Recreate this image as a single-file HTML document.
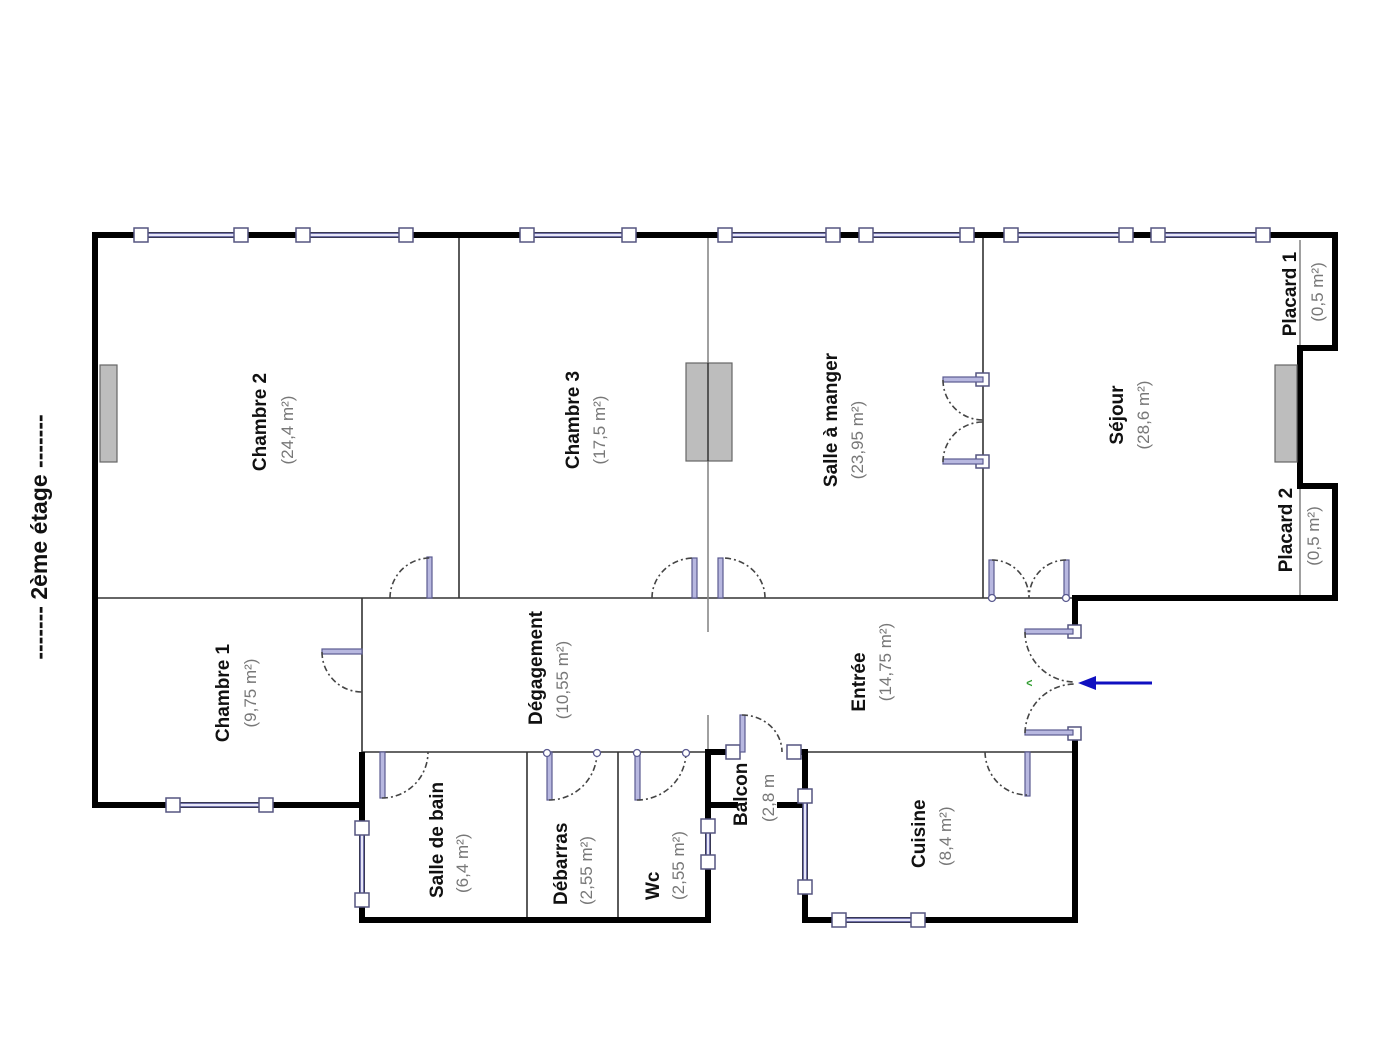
<!DOCTYPE html>
<html><head><meta charset="utf-8"><style>
html,body{margin:0;padding:0;background:#fff;}
svg{display:block;}
.n{font-family:"Liberation Sans",sans-serif;font-weight:bold;font-size:19px;fill:#111;}
.a{font-family:"Liberation Sans",sans-serif;font-size:17px;fill:#777;}
.w{stroke:#000;stroke-width:6;fill:none;stroke-linecap:square;}
.t{stroke:#333;stroke-width:1.6;fill:none;}
.g{stroke:#888;stroke-width:1.6;fill:none;}
.sq{fill:#fff;stroke:#555580;stroke-width:1.5;}
.win{stroke:#7070a8;stroke-width:5;fill:none;}
.win2{stroke:#e8e8f8;stroke-width:2;fill:none;}
.leaf{fill:#b8b8e0;stroke:#5a5a90;stroke-width:1.2;}
.arc{stroke:#444;stroke-width:1.6;fill:none;stroke-dasharray:6 3 2 3;}
.fp{fill:#bdbdbd;stroke:#666;stroke-width:1.2;}
</style></head><body>
<svg width="1390" height="1050" viewBox="0 0 1390 1050" xmlns="http://www.w3.org/2000/svg">
<rect width="1390" height="1050" fill="#fff"/>

<path class="t" d="M459,235V598 M983,235V598 M95,598H1075 M362,598V755 M362,752H708 M527,752V920 M618,752V920 M805,752H1077"/>
<path class="g" d="M708,235V632 M708,715V752 M1300,240V348 M1300,486V598"/>

<path class="w" d="M95,805V235H1335V348H1300V486H1335V598H1075V632 M1075,733V920H805V752 M95,805H362V920H708V752H735 M708,805H735 M780,805H805 M790,752H805"/>
<path class="w" d="M362,755V800"/>

<rect class="fp" x="100" y="365" width="17" height="97"/>
<rect class="fp" x="686" y="363" width="46" height="98"/>
<line x1="708" y1="363" x2="708" y2="461" stroke="#333" stroke-width="1.5"/>
<rect class="fp" x="1275" y="365" width="22" height="97"/>

<g>
<path class="win" d="M141,235H241 M303,235H406 M527,235H629 M725,235H833 M866,235H967 M1011,235H1126 M1158,235H1263 M173,805H266 M839,920H918 M362,828V900 M708,826V862 M805,796V887"/>
<path class="win2" d="M141,235H241 M303,235H406 M527,235H629 M725,235H833 M866,235H967 M1011,235H1126 M1158,235H1263 M173,805H266 M839,920H918 M362,828V900 M708,826V862 M805,796V887"/>
</g>
<g class="sq">
<rect x="134" y="228" width="14" height="14"/><rect x="234" y="228" width="14" height="14"/>
<rect x="296" y="228" width="14" height="14"/><rect x="399" y="228" width="14" height="14"/>
<rect x="520" y="228" width="14" height="14"/><rect x="622" y="228" width="14" height="14"/>
<rect x="718" y="228" width="14" height="14"/><rect x="826" y="228" width="14" height="14"/>
<rect x="859" y="228" width="14" height="14"/><rect x="960" y="228" width="14" height="14"/>
<rect x="1004" y="228" width="14" height="14"/><rect x="1119" y="228" width="14" height="14"/>
<rect x="1151" y="228" width="14" height="14"/><rect x="1256" y="228" width="14" height="14"/>
<rect x="166" y="798" width="14" height="14"/><rect x="259" y="798" width="14" height="14"/>
<rect x="832" y="913" width="14" height="14"/><rect x="911" y="913" width="14" height="14"/>
<rect x="355" y="821" width="14" height="14"/><rect x="355" y="893" width="14" height="14"/>
<rect x="701" y="819" width="14" height="14"/><rect x="701" y="855" width="14" height="14"/>
<rect x="798" y="789" width="14" height="14"/><rect x="798" y="880" width="14" height="14"/>
<rect x="726" y="745" width="14" height="14"/><rect x="787" y="745" width="14" height="14"/>
<rect x="976" y="373" width="13" height="13"/><rect x="976" y="455" width="13" height="13"/>
<rect x="1068" y="625" width="13" height="13"/><rect x="1068" y="727" width="13" height="13"/>
</g>

<g>
<rect class="leaf" x="427" y="557" width="5" height="41"/>
<path class="arc" d="M390,598 A40,40 0 0 1 430,558"/>
<rect class="leaf" x="692" y="558" width="5" height="40"/>
<path class="arc" d="M652,598 A42,40 0 0 1 694,558"/>
<rect class="leaf" x="718" y="558" width="5" height="40"/>
<path class="arc" d="M765,598 A43,40 0 0 0 722,558"/>
<rect class="leaf" x="943" y="377" width="40" height="5"/>
<rect class="leaf" x="943" y="459" width="40" height="5"/>
<path class="arc" d="M943,380 A40,40 0 0 0 983,420 M943,462 A40,40 0 0 1 983,422"/>
<rect class="leaf" x="989" y="560" width="5" height="38"/>
<rect class="leaf" x="1064" y="560" width="5" height="38"/>
<path class="arc" d="M992,560 A37,38 0 0 1 1029,598 M1066,560 A37,38 0 0 0 1029,598"/>
<rect class="leaf" x="1025" y="629" width="48" height="5"/>
<rect class="leaf" x="1025" y="730" width="48" height="5"/>
<path class="arc" d="M1025,632 A50,50 0 0 0 1075,682 M1025,733 A50,50 0 0 1 1075,684"/>
<rect class="leaf" x="322" y="649" width="40" height="5"/>
<path class="arc" d="M322,652 A40,40 0 0 0 362,692"/>
<rect class="leaf" x="380" y="752" width="5" height="46"/>
<path class="arc" d="M382,798 A46,46 0 0 0 428,752"/>
<rect class="leaf" x="547" y="752" width="5" height="48"/>
<path class="arc" d="M549,800 A48,48 0 0 0 597,752"/>
<rect class="leaf" x="635" y="752" width="5" height="48"/>
<path class="arc" d="M637,800 A49,48 0 0 0 686,752"/>
<rect class="leaf" x="740" y="715" width="5" height="37"/>
<path class="arc" d="M742,715 A40,37 0 0 1 782,752"/>
<rect class="leaf" x="1025" y="752" width="5" height="44"/>
<path class="arc" d="M985,752 A42,44 0 0 0 1027,795"/>
</g>
<g fill="#fff" stroke="#5a5a90" stroke-width="1.3">
<circle cx="547" cy="753" r="3.5"/><circle cx="597" cy="753" r="3.5"/>
<circle cx="637" cy="753" r="3.5"/><circle cx="686" cy="753" r="3.5"/>
<circle cx="992" cy="598" r="3.5"/><circle cx="1066" cy="598" r="3.5"/>
</g>

<line x1="1152" y1="683" x2="1092" y2="683" stroke="#1010c0" stroke-width="3"/>
<polygon points="1078,683 1096,676 1096,690" fill="#1010c0"/>
<text transform="translate(1035,683) rotate(-90)" text-anchor="middle" font-family="Liberation Sans,sans-serif" font-size="12" font-weight="bold" fill="#2a9a2a">^</text>

<g>
<text class="n" transform="translate(266,422) rotate(-90)" text-anchor="middle">Chambre 2</text>
<text class="a" transform="translate(293,430) rotate(-90)" text-anchor="middle">(24,4 m²)</text>
<text class="n" transform="translate(579,420) rotate(-90)" text-anchor="middle">Chambre 3</text>
<text class="a" transform="translate(605,430) rotate(-90)" text-anchor="middle">(17,5 m²)</text>
<text class="n" transform="translate(837,420) rotate(-90)" text-anchor="middle">Salle à manger</text>
<text class="a" transform="translate(863,440) rotate(-90)" text-anchor="middle">(23,95 m²)</text>
<text class="n" transform="translate(1123,415) rotate(-90)" text-anchor="middle">Séjour</text>
<text class="a" transform="translate(1149,415) rotate(-90)" text-anchor="middle">(28,6 m²)</text>
<text class="n" transform="translate(1296,294) rotate(-90)" text-anchor="middle">Placard 1</text>
<text class="a" transform="translate(1323,292) rotate(-90)" text-anchor="middle">(0,5 m²)</text>
<text class="n" transform="translate(1292,530) rotate(-90)" text-anchor="middle">Placard 2</text>
<text class="a" transform="translate(1319,536) rotate(-90)" text-anchor="middle">(0,5 m²)</text>
<text class="n" transform="translate(229,693) rotate(-90)" text-anchor="middle">Chambre 1</text>
<text class="a" transform="translate(256,693) rotate(-90)" text-anchor="middle">(9,75 m²)</text>
<text class="n" transform="translate(542,668) rotate(-90)" text-anchor="middle">Dégagement</text>
<text class="a" transform="translate(568,680) rotate(-90)" text-anchor="middle">(10,55 m²)</text>
<text class="n" transform="translate(865,682) rotate(-90)" text-anchor="middle">Entrée</text>
<text class="a" transform="translate(891,662) rotate(-90)" text-anchor="middle">(14,75 m²)</text>
<text class="n" transform="translate(443,898) rotate(-90)">Salle de bain</text>
<text class="a" transform="translate(468,893) rotate(-90)">(6,4 m²)</text>
<text class="n" transform="translate(567,905) rotate(-90)">Débarras</text>
<text class="a" transform="translate(592,905) rotate(-90)">(2,55 m²)</text>
<text class="n" transform="translate(659,900) rotate(-90)">Wc</text>
<text class="a" transform="translate(684,900) rotate(-90)">(2,55 m²)</text>
<text class="n" transform="translate(747,826) rotate(-90)">Balcon</text>
<text class="a" transform="translate(774,822) rotate(-90)">(2,8 m</text>
<text class="n" transform="translate(925,868) rotate(-90)">Cuisine</text>
<text class="a" transform="translate(951,866) rotate(-90)">(8,4 m²)</text>
<text transform="translate(47,537) rotate(-90)" text-anchor="middle" font-family="Liberation Sans,sans-serif" font-weight="bold" font-size="23" fill="#111">------- 2ème étage -------</text>
</g>
</svg>
</body></html>
